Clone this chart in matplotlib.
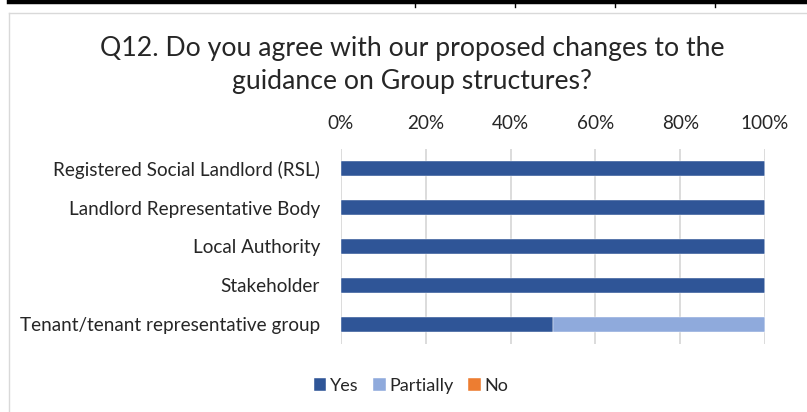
import matplotlib
matplotlib.use("Agg")
import matplotlib.pyplot as plt
from matplotlib.lines import Line2D
import numpy as np

categories = [
    "Registered Social Landlord (RSL)",
    "Landlord Representative Body",
    "Local Authority",
    "Stakeholder",
    "Tenant/tenant representative group",
]
yes = [1.0, 1.0, 1.0, 1.0, 0.5]
partially = [0.0, 0.0, 0.0, 0.0, 0.5]
no = [0.0, 0.0, 0.0, 0.0, 0.0]
series_names = ["Yes", "Partially", "No"]
colors = ["#2F5597", "#8FAADC", "#ED7D31"]
xticks = [0, 0.2, 0.4, 0.6, 0.8, 1.0]
xtick_labels = ["0%", "20%", "40%", "60%", "80%", "100%"]
title = "Q12. Do you agree with our proposed changes to the\nguidance on Group structures?"

plt.rcParams["font.family"] = ["Lato", "DejaVu Sans"]
text_color = "#262626"

W, H = 807, 412
fig = plt.figure(figsize=(W / 100, H / 100), dpi=100)

# chart frame and the table border above it
def fx(px):
    return px / W

def fy(py):
    return 1 - py / H

fig.add_artist(Line2D([fx(8.5), fx(8.5)], [fy(13), fy(412)], color="#D9D9D9", lw=1.0))
fig.add_artist(Line2D([fx(8.5), fx(807)], [fy(13), fy(13)], color="#D9D9D9", lw=1.0))
fig.add_artist(Line2D([fx(9), fx(807)], [fy(2), fy(2)], color="black", lw=3.2))
for px in [415, 515, 615, 715]:
    fig.add_artist(Line2D([fx(px), fx(px)], [fy(3), fy(7)], color="black", lw=1.0))

ax = fig.add_axes([fx(341), fy(344), fx(765) - fx(341), fy(149) - fy(344)])

y = np.arange(len(categories))
left = np.zeros(len(categories))
for vals, name, c in zip([yes, partially, no], series_names, colors):
    ax.barh(y, vals, left=left, height=0.4, color=c, label=name,
            edgecolor="white", linewidth=0.3, zorder=3)
    left = left + np.array(vals)

ax.set_ylim(len(categories) - 0.5, -0.5)
ax.set_xlim(0, 1.0)
ax.set_yticks(y)
ax.set_yticklabels(categories, fontsize=13.6, color=text_color)
ax.set_xticks(xticks)
ax.set_xticklabels(xtick_labels, fontsize=13.6, color=text_color)
ax.xaxis.tick_top()
ax.tick_params(axis="x", length=0, pad=12)
ax.tick_params(axis="y", length=0, pad=15)
ax.grid(axis="x", color="#D9D9D9", lw=1.3, zorder=0)
for s in ax.spines.values():
    s.set_visible(False)

fig.text(fx(412), fy(65), title, ha="center", va="center", fontsize=19.2,
         color=text_color, linespacing=1.38)

handles, labels = ax.get_legend_handles_labels()
fig.legend(handles, labels, loc="center", bbox_to_anchor=(fx(411), fy(386)),
           ncol=3, frameon=False, fontsize=13, handlelength=0.7, handleheight=0.7,
           handletextpad=0.2, columnspacing=0.8, labelcolor=text_color)

fig.savefig("out.png", dpi=100)
